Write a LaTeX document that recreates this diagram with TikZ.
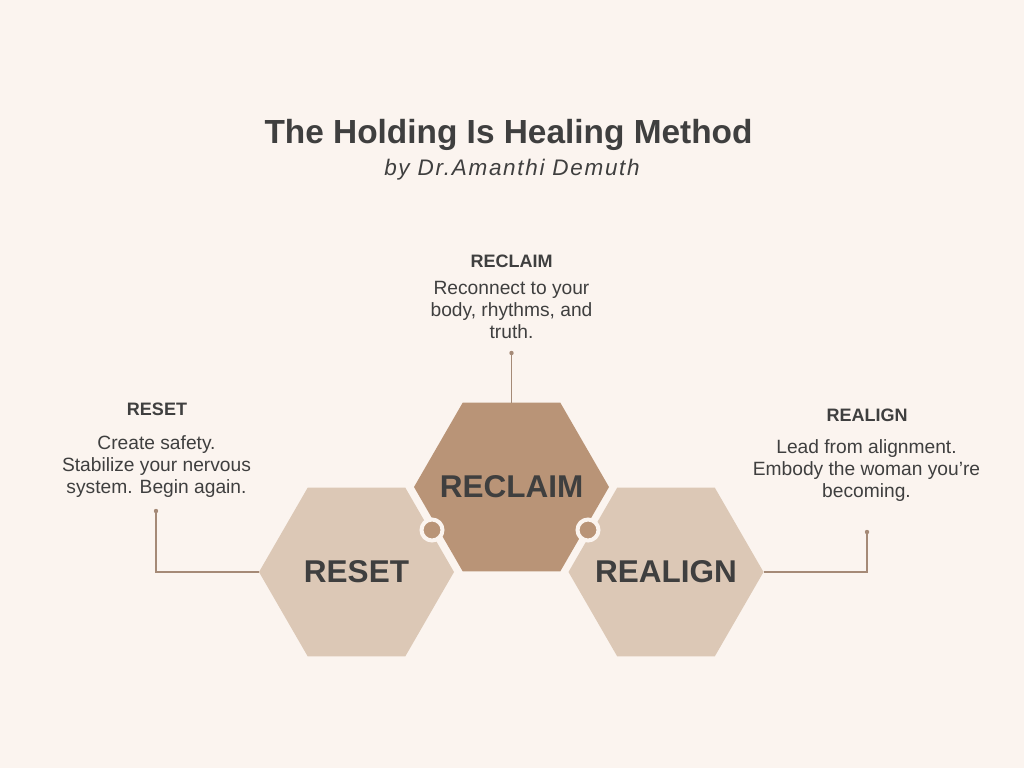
\documentclass[tikz,border=0pt]{standalone}
\usepackage{fontspec}
\setmainfont{Liberation Sans}
\newfontfamily\subfont[LetterSpace=7.5]{Liberation Sans}
\usetikzlibrary{shapes.geometric}
\definecolor{bg}{HTML}{FBF4EF}
\definecolor{darkhex}{HTML}{B99477}
\definecolor{lighthex}{HTML}{DCC8B6}
\definecolor{ink}{HTML}{3F3F3F}
\definecolor{wire}{HTML}{A58A77}
\begin{document}
\begin{tikzpicture}[x=1pt,y=-1pt,
  hexa/.style={regular polygon, regular polygon sides=6, minimum size=195pt,
    inner sep=0pt, outer sep=0pt, draw=none},
  hexlabel/.style={text=ink, inner sep=0pt, font=\bfseries\fontsize{31.5}{36}\selectfont},
  ring/.style={circle, fill=darkhex, draw=bg, line width=4pt, minimum size=21pt, inner sep=0pt},
  head/.style={anchor=base, text=ink, inner sep=0pt, font=\bfseries\fontsize{18}{22}\selectfont},
  body/.style={anchor=north, text=ink, inner sep=0pt, align=center, font=\fontsize{19.2}{22}\selectfont},
  wireline/.style={draw=wire, line width=1.2pt},
  dot/.style={fill=wire}]
\fill[bg] (0,0) rectangle (1024,768);
\useasboundingbox (0,0) rectangle (1024,768);

\node[anchor=base, text=ink, inner sep=0pt, font=\bfseries\fontsize{33.4}{38}\selectfont] (title) at (508.5,143.5) {The Holding Is Healing Method};
\node[anchor=base, text=ink, inner sep=0pt, font=\subfont\itshape\fontsize{22.5}{25}\selectfont] (subtitle) at (512,175.5) {by Dr.Amanthi Demuth};

\node[hexa, fill=lighthex] (reset) at (356.5,572) {};
\node[hexa, fill=darkhex] (reclaim) at (511.5,487) {};
\node[hexa, fill=lighthex] (realign) at (666,572) {};
\node[hexlabel] (resetlbl) at (reset.center) {RESET};
\node[hexlabel] (reclaimlbl) at (reclaim.center) {RECLAIM};
\node[hexlabel] (realignlbl) at (realign.center) {REALIGN};

\node[ring] (j1) at (432,530) {};
\node[ring] (j2) at (588,530) {};

\coordinate (d1) at (156,511);
\coordinate (d2) at (511.5,353);
\coordinate (d3) at (867,532);
\draw[wireline] (reset.west) -| (d1);
\draw[wireline] (reclaim.north) -- (d2);
\draw[wireline] (realign.east) -| (d3);
\fill[dot] (d1) circle (2.2);
\fill[dot] (d2) circle (2.2);
\fill[dot] (d3) circle (2.2);

\node[head] (h1) at (157,415) {RESET};
\node[body] (b1) at (156.5,435.5) {Create safety.\\Stabilize your nervous\\system. Begin again.};
\node[head] (h2) at (511.5,267.5) {RECLAIM};
\node[body] (b2) at (511.5,281.5) {Reconnect to your\\body, rhythms, and\\truth.};
\node[head] (h3) at (867,421) {REALIGN};
\node[body] (b3) at (866.5,439.5) {Lead from alignment.\\Embody the woman you’re\\becoming.};
\end{tikzpicture}
\end{document}
